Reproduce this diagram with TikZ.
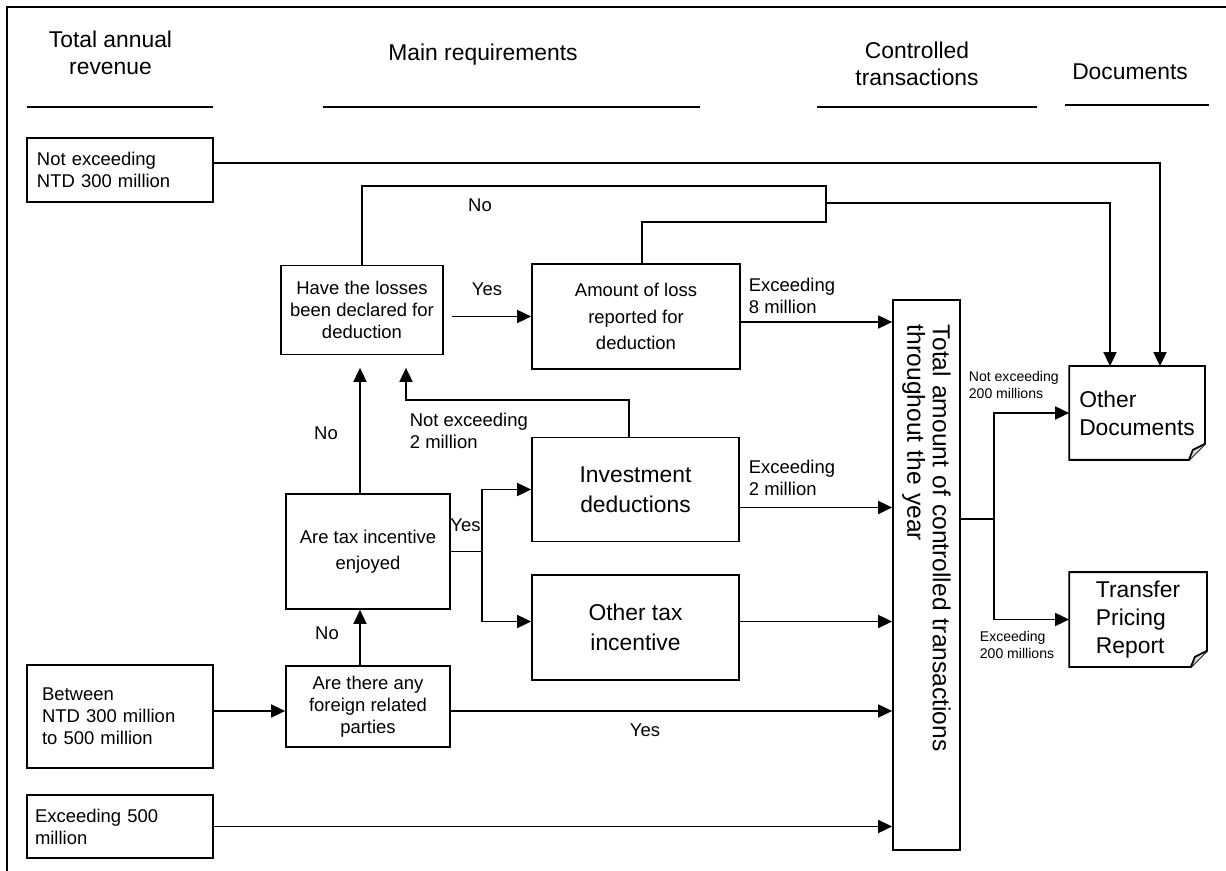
\documentclass[tikz,border=0pt]{standalone}
\usepackage{fontspec}
\setmainfont{Liberation Sans}
\usetikzlibrary{arrows.meta,positioning,calc}

% page outline with a folded corner
\newcommand{\pagefold}[1]{%
  \draw (#1.north west) -- (#1.north east) -- ([yshift=0.32cm]#1.south east)
    -- ([xshift=-0.32cm]#1.south east) -- (#1.south west) -- cycle;
  \draw[fill=gray!30] ([yshift=0.32cm]#1.south east) -- ([xshift=-0.24cm,yshift=0.2cm]#1.south east)
    -- ([xshift=-0.32cm]#1.south east);
}

\begin{document}
\begin{tikzpicture}[
    line width=1pt,
    >={Triangle[length=0.28cm,width=0.26cm]},
    head/.style={align=center, font=\fontsize{13}{15.5}\selectfont},
    revbox/.style={rectangle, draw, minimum width=3.72cm, text width=3.32cm, inner xsep=0.2cm, align=left, font=\fontsize{10.5}{12.5}\selectfont},
    qbox/.style={rectangle, draw, inner sep=0pt, align=center, font=\fontsize{10.5}{12.5}\selectfont},
    bigbox/.style={rectangle, draw, inner sep=0pt, minimum width=4.14cm, minimum height=2.08cm, align=center, font=\fontsize{13}{17}\selectfont},
    docbox/.style={inner sep=0pt, align=left, font=\fontsize{13}{16}\selectfont},
    lbl/.style={inner sep=0pt, align=left, font=\fontsize{10.5}{12.3}\selectfont},
    smalllbl/.style={inner sep=0pt, align=left, font=\fontsize{8}{9.2}\selectfont},
  ]
    \useasboundingbox (0,0) rectangle (24.52,-17.42);

    % frame
    \draw (0.14,-17.42) -- (0.14,-0.14) -- (24.52,-0.14);

    % column headings
    \node[head] (revhead) at (2.21,-1.06) {Total annual\\revenue};
    \node[head] (reqhead) at (9.66,-1.10) {Main requirements};
    \node[head] (cthead) at (18.34,-1.28) {Controlled\\transactions};
    \node[head] (dochead) at (22.60,-1.44) {Documents};
    \draw (0.54,-2.14) -- (4.26,-2.14);
    \draw (6.46,-2.14) -- (14.00,-2.14);
    \draw (16.34,-2.14) -- (20.74,-2.14);
    \draw (21.30,-2.10) -- (24.18,-2.10);

    % total annual revenue
    \node[revbox, minimum height=1.28cm] (low) at (2.40,-3.40) {Not exceeding\\NTD 300 million};
    \node[revbox, minimum height=2.06cm, text width=3.12cm, inner xsep=0.3cm] (mid) at (2.40,-14.33) {Between\\NTD 300 million\\to 500 million};
    \node[revbox, minimum height=1.26cm, text width=3.40cm, inner xsep=0.16cm] (high) at (2.40,-16.53) {Exceeding 500\\million};

    % main requirements
    \node[qbox, minimum width=3.24cm, minimum height=1.78cm] (losses) at (7.24,-6.20) {Have the losses\\been declared for\\deduction};
    \node[qbox, minimum width=4.16cm, minimum height=2.10cm, font=\fontsize{10.5}{15}\selectfont] (amount) at (12.72,-6.33) {Amount of loss\\reported for\\deduction};
    \node[bigbox] (invest) at (12.71,-9.79) {Investment\\deductions};
    \node[bigbox, minimum height=2.10cm] (othertax) at (12.71,-12.55) {Other tax\\incentive};
    \node[qbox, minimum width=3.28cm, minimum height=2.30cm, font=\fontsize{10.5}{15}\selectfont] (taxinc) at (7.36,-11.03) {Are tax incentive\\enjoyed};
    \node[qbox, minimum width=3.28cm, minimum height=1.62cm] (foreign) at (7.36,-14.13) {Are there any\\foreign related\\parties};

    % controlled transactions (text runs downwards)
    \node[draw, rotate=-90, minimum height=1.34cm, text width=10.0cm, inner xsep=0.5cm, inner ysep=0pt, align=left, font=\fontsize{14}{14.5}\selectfont] (total) at (18.53,-11.50) {Total amount of controlled transactions\\throughout the year};

    % documents
    \node[docbox, minimum width=2.68cm, minimum height=1.84cm] (otherdoc) at (22.74,-8.26) {Other\\Documents};
    \pagefold{otherdoc}
    \node[docbox, minimum width=2.72cm, minimum height=1.86cm] (tpr) at (22.76,-12.39) {Transfer\\Pricing\\Report};
    \pagefold{tpr}

    % small revenue goes straight to other documents
    \draw[->] ([yshift=0.14cm]low.east) -| ([xshift=0.46cm]otherdoc.north);

    % losses loop
    \coordinate (lossjoin) at (16.52,-4.06);
    \draw (losses.north) |- ([yshift=0.34cm]lossjoin) -- ([yshift=-0.38cm]lossjoin) -| ([xshift=0.12cm]amount.north);
    \draw[->] (lossjoin) -| ([xshift=-0.54cm]otherdoc.north);
    \node[lbl] (no1) at (9.60,-4.10) {No};

    \draw[->] ([xshift=0.16cm]losses.east |- amount.west) -- (amount.west);
    \node[lbl] (yes1) at (9.74,-5.78) {Yes};

    \draw[->] ([yshift=-0.11cm]amount.east) -- ([yshift=-0.11cm]amount.east -| total.south);
    \node[lbl, anchor=west] (ex8) at (14.96,-5.92) {Exceeding\\8 million};

    % investment deductions
    \draw[->] ([xshift=-0.13cm]invest.north) -- ++(0,0.73) -| ([xshift=0.88cm,yshift=-0.25cm]losses.south);
    \node[lbl, anchor=west] (nex2) at (8.18,-8.62) {Not exceeding\\2 million};
    \draw[->] ([yshift=-0.36cm]invest.east) -- ([yshift=-0.36cm]invest.east -| total.south);
    \node[lbl, anchor=west] (ex2) at (14.96,-9.56) {Exceeding\\2 million};

    \draw[->] ([yshift=0.12cm]othertax.east) -- ([yshift=0.12cm]othertax.east -| total.south);

    % tax incentives
    \draw (taxinc.east) -- ++(0.62,0) coordinate (yesfork);
    \draw[->] (yesfork) |- (invest.west);
    \draw[->] (yesfork) |- ([yshift=0.12cm]othertax.west);
    \node[lbl] (yes2) at (9.31,-10.50) {Yes};

    \draw[->] ([xshift=-0.16cm]taxinc.north) -- ([xshift=-0.16cm,yshift=-0.25cm]taxinc.north |- losses.south);
    \node[lbl] (no2) at (6.52,-8.66) {No};

    % related parties
    \draw[->] ([xshift=-0.16cm]foreign.north) -- ([xshift=-0.16cm]taxinc.south);
    \node[lbl] (no3) at (6.54,-12.66) {No};

    \draw[->] ([yshift=0.11cm]mid.east) -- ([yshift=0.11cm]mid.east -| foreign.west);
    \draw[->] ([yshift=-0.09cm]foreign.east) -- ([yshift=-0.09cm]foreign.east -| total.south);
    \node[lbl] (yes3) at (12.90,-14.60) {Yes};

    \draw[->] (high.east) -- (high.east -| total.south);

    % to the documents
    \draw ([yshift=1.12cm]total.north) -- ++(0.66,0) coordinate (docfork);
    \draw[->] (docfork) |- (otherdoc.west);
    \draw[->] (docfork) |- (tpr.west);
    \node[smalllbl, anchor=west] (nex200) at (19.36,-7.70) {Not exceeding\\200 millions};
    \node[smalllbl, anchor=west] (ex200) at (19.58,-12.90) {Exceeding\\200 millions};
  \end{tikzpicture}
\end{document}
